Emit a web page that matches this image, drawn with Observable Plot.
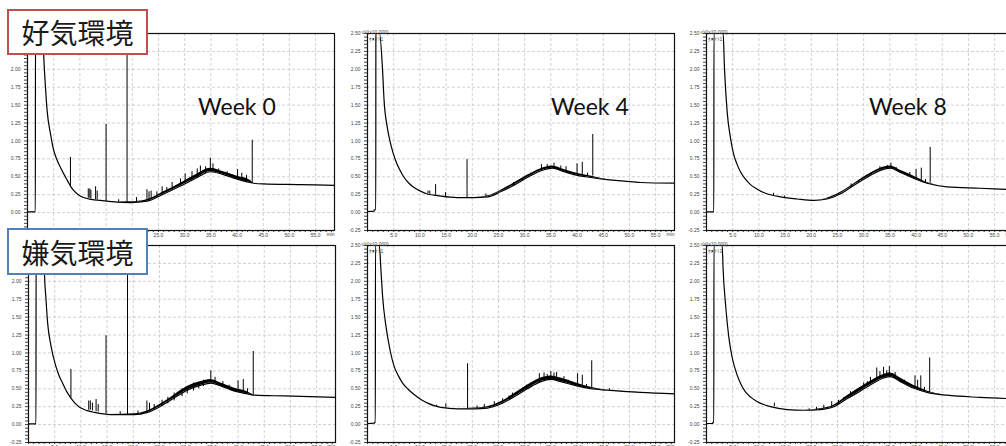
<!DOCTYPE html>
<html><head><meta charset="utf-8">
<script src="https://cdn.jsdelivr.net/npm/d3@7"></script>
<script src="https://cdn.jsdelivr.net/npm/@observablehq/plot@0.6"></script>
<style>
html,body{margin:0;padding:0;background:#fff;}
#page{position:relative;width:1006px;height:446px;overflow:hidden;background:#fff;}
.panel{position:absolute;}
.panel svg{max-width:none !important;background:transparent !important;overflow:visible;}
.week{position:absolute;font-family:Lato,"Open Sans",sans-serif;font-size:23px;line-height:23px;color:#111;white-space:nowrap;z-index:4;}
.rowlab{position:absolute;box-sizing:border-box;width:141px;border:2px solid;background:#fff;display:flex;align-items:center;justify-content:center;font-family:"Noto Sans CJK JP",sans-serif;font-size:28px;color:#1a1a1a;z-index:5;}
</style></head>
<body><div id="page"></div>
<script>
// ---------- labels ----------
const rowLabels = ["好気環境", "嫌気環境"];
const weekLabels = ["Week 0", "Week 4", "Week 8"];
const timeLabels = [5, 10, 15, 20, 25, 30, 35, 40, 45, 50, 55];
const valueLabels = [-0.25, 0, 0.25, 0.5, 0.75, 1, 1.25, 1.5, 1.75, 2, 2.25, 2.5];
const yUnitLabel = "uV(x10,000)";
const channelLabel = "ｸﾛﾏﾄ1";
const timeUnitLabel = "min";

// ---------- data: baseline [min, value, noise band] ----------
const aerobicW0Base = [[0,0.01,0],[1.5,0.01,0],[1.52,2.5,0],[2.95,2.5,0],[3.11,2.17,0],[3.43,1.75,0],[3.75,1.42,0],[4.39,1.10,0],[5.0,0.87,0],[5.6,0.74,0],[6.3,0.63,0],[7.0,0.53,0],[7.6,0.45,0],[8.2,0.37,0],[8.8,0.31,0],[9.7,0.25,0],[10.7,0.21,0],[12.2,0.185,0],[13.9,0.17,0],[17.1,0.145,0],[19.6,0.14,0.01],[22.8,0.16,0.02],[26.0,0.26,0.03],[29.2,0.37,0.04],[32.4,0.49,0.05],[34.9,0.57,0.05],[37.4,0.53,0.04],[39.9,0.47,0.04],[42.5,0.42,0.03],[43.2,0.41,0],[45.0,0.40,0],[52.0,0.39,0],[58.6,0.38,0]];
const aerobicW0Spikes = [[8.2,0.37,0.77],[11.6,0.20,0.33],[11.9,0.20,0.33],[12.1,0.19,0.31],[13.0,0.18,0.36],[13.3,0.18,0.30],[15.0,0.16,1.23],[17.4,0.145,0.18],[19.0,0.14,2.5],[20.8,0.145,0.21],[22.8,0.16,0.32],[23.2,0.17,0.29],[23.6,0.18,0.30],[24.7,0.21,0.29],[25.7,0.24,0.36],[26.6,0.28,0.35],[27.6,0.32,0.42],[29.2,0.37,0.47],[30.1,0.41,0.54],[31.4,0.45,0.57],[32.4,0.49,0.61],[33.0,0.51,0.65],[34.0,0.54,0.64],[34.9,0.57,0.76],[35.4,0.57,0.68],[36.5,0.55,0.61],[38.1,0.51,0.57],[39.0,0.49,0.53],[40.1,0.47,0.60],[40.9,0.45,0.55],[41.8,0.43,0.52],[42.9,0.42,1.01]];

const aerobicW4Base = [[0,0.015,0],[1.27,0.02,0],[1.3,0.04,0],[1.58,0.04,0],[1.6,2.5,0],[2.3,2.5,0],[2.85,2.02,0],[3.17,1.56,0],[3.8,1.18,0],[4.45,0.95,0],[5.4,0.72,0],[6.2,0.59,0],[7.0,0.49,0],[7.9,0.41,0],[8.9,0.35,0],[10.1,0.30,0],[11.4,0.26,0],[12.7,0.245,0],[14.0,0.23,0],[17.1,0.21,0],[20.3,0.21,0],[22.9,0.22,0.01],[25.4,0.29,0.02],[27.9,0.38,0.03],[30.5,0.49,0.03],[33.0,0.58,0.03],[35.3,0.62,0.03],[37.5,0.57,0.03],[39.4,0.53,0.03],[42.6,0.49,0.02],[45.8,0.46,0],[49.0,0.44,0],[52.1,0.42,0],[58.6,0.41,0]];
const aerobicW4Spikes = [[11.55,0.26,0.30],[11.9,0.255,0.30],[13.0,0.24,0.39],[14.9,0.225,0.28],[19.0,0.21,0.74],[22.6,0.22,0.26],[27.9,0.38,0.42],[29.6,0.44,0.48],[31.2,0.51,0.55],[33.2,0.58,0.67],[34.3,0.61,0.67],[35.6,0.62,0.69],[36.9,0.59,0.65],[37.9,0.57,0.64],[40.0,0.53,0.68],[41.0,0.52,0.70],[42.0,0.51,0.55],[43.0,0.51,1.09]];

const aerobicW8Base = [[0,0.01,0],[1.4,0.01,0],[1.42,2.5,0],[3.18,2.5,0],[3.43,2.02,0],[3.94,1.41,0],[4.58,1.04,0],[5.2,0.81,0],[5.8,0.68,0],[6.48,0.57,0],[7.4,0.47,0],[8.4,0.39,0],[9.6,0.33,0],[10.9,0.28,0],[12.4,0.245,0],[14.1,0.22,0],[17.3,0.19,0],[20.5,0.17,0],[23.0,0.19,0.01],[25.5,0.26,0.02],[28.1,0.38,0.02],[30.6,0.49,0.03],[33.2,0.59,0.03],[35.1,0.62,0.03],[37.0,0.56,0.03],[39.5,0.48,0.03],[42.1,0.41,0.01],[45.9,0.36,0],[52.2,0.34,0],[58.6,0.32,0]];
const aerobicW8Spikes = [[12.8,0.235,0.27],[14.9,0.21,0.23],[27.6,0.36,0.40],[29.0,0.42,0.45],[31.4,0.52,0.56],[33.1,0.59,0.64],[34.5,0.61,0.66],[35.2,0.62,0.69],[36.2,0.59,0.63],[38.8,0.51,0.56],[40.0,0.47,0.60],[41.0,0.45,0.62],[41.8,0.42,0.46],[42.7,0.41,0.91]];

const anaerobicW0Base = [[0,0.01,0],[1.43,0.01,0],[1.45,2.5,0],[2.95,2.5,0],[3.02,2.17,0],[3.34,1.75,0],[3.65,1.42,0],[4.29,1.10,0],[5.2,0.82,0],[5.8,0.69,0],[6.5,0.58,0],[7.3,0.46,0],[8.1,0.37,0],[9.0,0.29,0],[10.0,0.23,0],[11.2,0.195,0],[12.6,0.17,0],[15.7,0.14,0],[20.2,0.14,0.01],[22.7,0.17,0.02],[25.3,0.26,0.03],[27.8,0.37,0.04],[30.3,0.48,0.05],[32.9,0.55,0.05],[34.8,0.58,0.05],[36.7,0.54,0.04],[39.2,0.47,0.04],[41.8,0.43,0.03],[43.2,0.41,0],[48.8,0.40,0],[58.6,0.38,0]];
const anaerobicW0Spikes = [[8.1,0.37,0.77],[11.5,0.20,0.33],[11.8,0.20,0.33],[12.2,0.19,0.30],[12.9,0.18,0.35],[13.3,0.175,0.28],[14.8,0.15,1.24],[17.5,0.14,0.18],[18.9,0.14,2.5],[20.9,0.145,0.19],[22.6,0.165,0.33],[23.1,0.18,0.30],[24.0,0.20,0.28],[25.5,0.25,0.34],[26.6,0.29,0.38],[27.8,0.33,0.44],[29.3,0.39,0.50],[30.3,0.43,0.53],[31.5,0.47,0.58],[32.5,0.50,0.58],[33.4,0.53,0.62],[34.8,0.57,0.75],[35.6,0.57,0.66],[37.1,0.53,0.60],[38.3,0.50,0.55],[40.0,0.46,0.61],[41.0,0.44,0.63],[41.8,0.43,0.50],[42.9,0.42,1.02]];

const anaerobicW4Base = [[0,0.015,0],[1.3,0.02,0],[1.33,0.03,0],[1.5,0.03,0],[1.52,2.5,0],[2.26,2.5,0],[2.57,2.15,0],[2.89,1.78,0],[3.53,1.37,0],[4.17,1.09,0],[5.1,0.81,0],[5.9,0.68,0],[6.7,0.58,0],[7.8,0.49,0],[8.9,0.42,0],[10.2,0.35,0],[11.5,0.30,0],[12.7,0.265,0],[14.0,0.24,0],[17.2,0.22,0],[20.4,0.22,0.01],[22.9,0.23,0.02],[25.5,0.29,0.03],[28.0,0.39,0.04],[30.5,0.50,0.05],[33.1,0.60,0.05],[35.0,0.63,0.05],[36.9,0.60,0.05],[39.4,0.55,0.04],[42.6,0.50,0.02],[45.8,0.48,0],[52.1,0.45,0],[58.6,0.43,0]];
const anaerobicW4Spikes = [[13.2,0.24,0.27],[14.96,0.23,0.29],[19.1,0.22,0.85],[20.9,0.22,0.26],[22.3,0.23,0.28],[24.2,0.26,0.32],[25.8,0.30,0.36],[27.0,0.35,0.40],[27.7,0.37,0.44],[28.6,0.41,0.46],[29.6,0.45,0.51],[30.4,0.49,0.55],[31.2,0.53,0.58],[32.8,0.58,0.71],[33.7,0.61,0.72],[34.3,0.62,0.70],[35.0,0.63,0.74],[35.6,0.62,0.72],[36.1,0.61,0.73],[37.5,0.58,0.67],[38.3,0.57,0.62],[40.1,0.54,0.71],[41.0,0.52,0.69],[41.8,0.51,0.56],[42.8,0.50,0.89],[46.2,0.48,0.50]];

const anaerobicW8Base = [[0,0.015,0],[1.2,0.015,0],[1.22,0.03,0],[1.4,0.03,0],[1.42,2.5,0],[2.99,2.5,0],[3.18,2.15,0],[3.62,1.69,0],[4.26,1.22,0],[4.89,0.94,0],[5.85,0.69,0],[6.6,0.56,0],[7.4,0.46,0],[8.5,0.38,0],[9.7,0.32,0],[10.9,0.28,0],[12.2,0.25,0],[15.4,0.21,0],[18.6,0.20,0],[21.7,0.21,0.01],[24.3,0.25,0.02],[26.8,0.36,0.04],[29.4,0.47,0.05],[31.9,0.58,0.05],[33.8,0.65,0.05],[35.1,0.67,0.05],[37.0,0.60,0.05],[39.5,0.51,0.04],[42.1,0.45,0.02],[45.9,0.41,0],[52.2,0.38,0],[58.6,0.36,0]];
const anaerobicW8Spikes = [[12.96,0.25,0.30],[19.6,0.20,0.22],[21.0,0.21,0.24],[22.4,0.22,0.27],[23.9,0.24,0.32],[25.2,0.28,0.34],[26.2,0.33,0.38],[27.5,0.39,0.46],[28.5,0.43,0.48],[30.0,0.50,0.58],[30.7,0.53,0.60],[31.3,0.56,0.66],[32.5,0.61,0.79],[33.1,0.63,0.74],[33.8,0.65,0.80],[34.4,0.66,0.75],[34.9,0.67,0.81],[36.0,0.63,0.73],[37.8,0.57,0.62],[39.8,0.51,0.68],[40.3,0.50,0.62],[40.9,0.48,0.68],[41.6,0.46,0.52],[42.6,0.45,0.93]];

// ---------- layout ----------
const ML = 30, MT = 10, MR = 8, MB = 14, PW = 307, PH = 197;
const minorTimeTicks = d3.range(0, 59, 1);
const minorValueTicks = d3.range(-25, 251, 5).map(d => d / 100);
const isLabelValue = d => valueLabels.some(v => Math.abs(v - d) < 1e-9);

// hiddenBelow: time labels covered by the row label box are not drawn
function chromatogram(base, spikes, showCorner, hiddenBelow) {
  const marks = [
    Plot.ruleX(timeLabels, {stroke: "#c6c6c6", strokeDasharray: "3,2", strokeWidth: 0.8}),
    Plot.ruleY(valueLabels.slice(1, -1), {stroke: "#c6c6c6", strokeDasharray: "3,2", strokeWidth: 0.8}),
    Plot.areaY(base, {x: d => d[0], y1: d => d[1], y2: d => d[1] + d[2], fill: "#000", curve: "monotone-x"}),
    Plot.line(base, {x: d => d[0], y: d => d[1], stroke: "#000", strokeWidth: 1.2, curve: "monotone-x"}),
    Plot.ruleX(spikes, {x: d => d[0], y1: d => d[1], y2: d => d[2], stroke: "#000", strokeWidth: 1}),
    Plot.frame({stroke: "#111", strokeWidth: 1.2}),
    Plot.text([timeUnitLabel], {frameAnchor: "bottom-right", textAnchor: "end", dy: 5, fill: "#444"})
  ];
  if (showCorner) {
    marks.push(Plot.text([yUnitLabel], {frameAnchor: "top-left", textAnchor: "start", dx: -6, dy: -3.5, fill: "#444"}));
    marks.push(Plot.text([channelLabel], {frameAnchor: "top-left", textAnchor: "start", dx: 1, dy: 3.5, fill: "#444"}));
  }
  return Plot.plot({
    width: ML + PW + MR, height: MT + PH + MB,
    marginLeft: ML, marginTop: MT, marginRight: MR, marginBottom: MB,
    style: {background: "transparent", fontFamily: "'Liberation Sans', Arial, sans-serif", fontSize: "5px", color: "#444", overflow: "visible"},
    x: {domain: [0, 58.6], ticks: minorTimeTicks, tickFormat: d => (timeLabels.includes(d) && d > hiddenBelow) ? d.toFixed(1) : "", tickSize: 2, tickPadding: 1, label: null},
    y: {domain: [-0.25, 2.5], ticks: minorValueTicks, tickFormat: d => isLabelValue(d) ? d.toFixed(2) : "", tickSize: 3, tickPadding: 4, label: null},
    marks
  });
}

const page = document.getElementById("page");
const panels = [
  {base: aerobicW0Base, spikes: aerobicW0Spikes, left: -3, top: 23, corner: false, hide: 23},
  {base: aerobicW4Base, spikes: aerobicW4Spikes, left: 337, top: 23, corner: true, hide: 0},
  {base: aerobicW8Base, spikes: aerobicW8Spikes, left: 676, top: 23, corner: true, hide: 0},
  {base: anaerobicW0Base, spikes: anaerobicW0Spikes, left: -2, top: 235, corner: false, hide: 0},
  {base: anaerobicW4Base, spikes: anaerobicW4Spikes, left: 337, top: 235, corner: true, hide: 0},
  {base: anaerobicW8Base, spikes: anaerobicW8Spikes, left: 676, top: 235, corner: true, hide: 0}
];
panels.forEach(p => {
  const div = document.createElement("div");
  div.className = "panel";
  div.style.left = p.left + "px";
  div.style.top = p.top + "px";
  div.appendChild(chromatogram(p.base, p.spikes, p.corner, p.hide));
  page.appendChild(div);
});

const weekPos = [[198, 95], [551, 95], [869, 95]];
weekLabels.forEach((w, i) => {
  const d = document.createElement("div");
  d.className = "week";
  d.textContent = w;
  d.style.left = weekPos[i][0] + "px";
  d.style.top = weekPos[i][1] + "px";
  page.appendChild(d);
});

const rowBoxes = [{top: 9, height: 46, color: "#c0504d"}, {top: 228, height: 47, color: "#4f81bd"}];
rowLabels.forEach((r, i) => {
  const d = document.createElement("div");
  d.className = "rowlab";
  d.textContent = r;
  d.style.left = "7px";
  d.style.top = rowBoxes[i].top + "px";
  d.style.height = rowBoxes[i].height + "px";
  d.style.borderColor = rowBoxes[i].color;
  page.appendChild(d);
});
</script>
</body></html>
